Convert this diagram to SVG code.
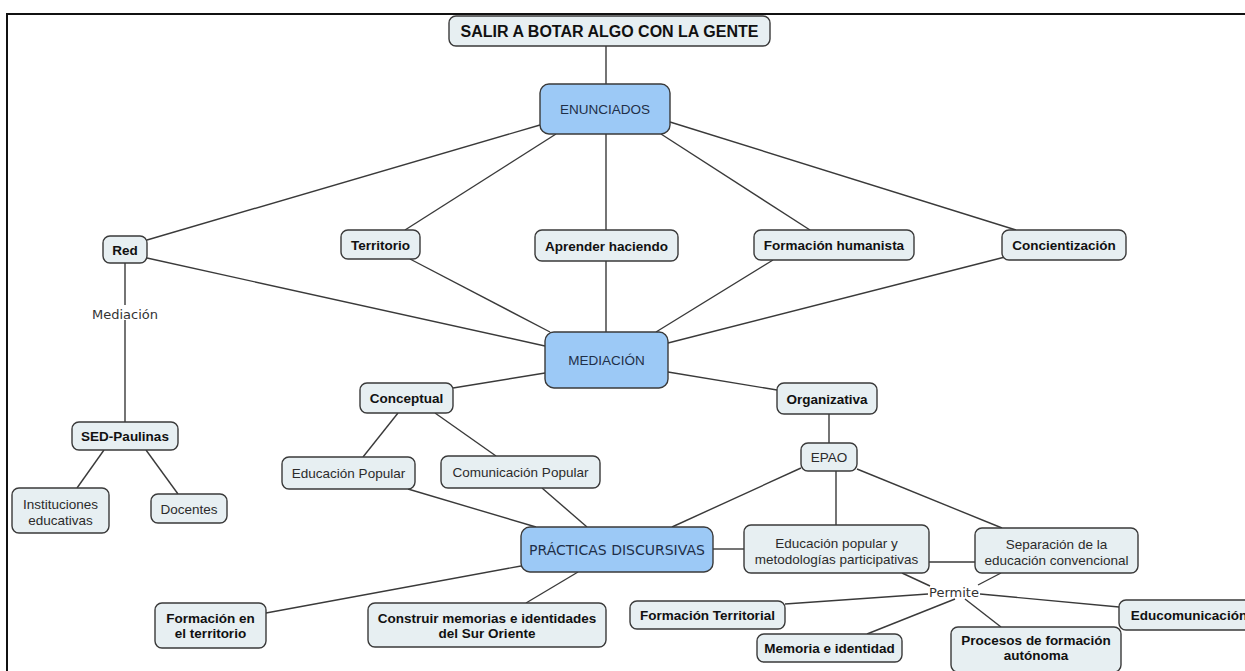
<svg xmlns="http://www.w3.org/2000/svg" width="1245" height="671" viewBox="0 0 1245 671">
<style>
.n rect{fill:#e7eff2;stroke:#3a3a3a;stroke-width:1.4}
.b rect{fill:#9cc9f6;stroke:#3a3a3a;stroke-width:1.4}
text{font-family:"Liberation Sans",Arial,sans-serif;font-size:13.5px;text-anchor:middle;fill:#2b2b2b}
.b text{fill:#1f2f48}
.bd text{font-weight:bold;fill:#111}
.lbl{font-family:"DejaVu Sans",Verdana,sans-serif;font-size:13px;fill:#333}
#links line{stroke:#3a3a3a;stroke-width:1.4}
</style>
<rect x="0" y="0" width="1245" height="671" fill="#ffffff"/>
<path d="M7,671 V14 H1245" fill="none" stroke="#111" stroke-width="2"/>
<g id="links">
<line x1="606" y1="46" x2="606" y2="84"/>
<line x1="540" y1="125" x2="147" y2="240"/>
<line x1="556" y1="134" x2="405" y2="230"/>
<line x1="606" y1="134" x2="606" y2="230"/>
<line x1="661" y1="134" x2="810" y2="230"/>
<line x1="670" y1="122" x2="1016" y2="230"/>
<line x1="147" y1="258" x2="545" y2="346"/>
<line x1="410" y1="259" x2="550" y2="332"/>
<line x1="606" y1="261" x2="606" y2="332"/>
<line x1="773" y1="260" x2="656" y2="332"/>
<line x1="1005" y1="257" x2="668" y2="343"/>
<line x1="668" y1="372" x2="777" y2="390"/>
<line x1="545" y1="373" x2="453" y2="388"/>
<line x1="398" y1="413" x2="363" y2="457"/>
<line x1="435" y1="413" x2="496" y2="456"/>
<line x1="408" y1="489" x2="536" y2="527"/>
<line x1="542" y1="488" x2="587" y2="527"/>
<line x1="801" y1="468" x2="672" y2="527"/>
<line x1="836" y1="471" x2="836" y2="525"/>
<line x1="857" y1="469" x2="1002" y2="528"/>
<line x1="829" y1="414" x2="829" y2="443"/>
<line x1="713" y1="549" x2="744" y2="549"/>
<line x1="929" y1="562" x2="975" y2="562"/>
<line x1="521" y1="566" x2="266" y2="613"/>
<line x1="578" y1="572" x2="526" y2="603"/>
<line x1="125" y1="263" x2="125" y2="305"/>
<line x1="125" y1="320" x2="125" y2="422"/>
<line x1="104" y1="450" x2="77" y2="488"/>
<line x1="146" y1="450" x2="178" y2="494"/>
<line x1="902" y1="573" x2="930" y2="586"/>
<line x1="1001" y1="573" x2="978" y2="585"/>
<line x1="928" y1="594" x2="785" y2="604"/>
<line x1="955" y1="599" x2="867" y2="634"/>
<line x1="965" y1="599" x2="1001" y2="627"/>
<line x1="980" y1="594" x2="1119" y2="607"/>
<text class="lbl" x="125" y="319">Mediación</text>
<text class="lbl" x="954" y="597">Permite</text>
</g>
<g id="n-salir" class="n bd"><rect x="449" y="16" width="321" height="30" rx="7"/><text x="609.5" y="37" style="font-size:16px">SALIR A BOTAR ALGO CON LA GENTE</text></g>
<g id="n-enunciados" class="b"><rect x="540" y="84" width="130" height="50" rx="9"/><text x="605" y="114">ENUNCIADOS</text></g>
<g id="n-red" class="n bd"><rect x="103" y="236" width="44" height="27" rx="7"/><text x="125" y="254.5">Red</text></g>
<g id="n-territorio" class="n bd"><rect x="341" y="230" width="79" height="29" rx="7"/><text x="380.5" y="249.5">Territorio</text></g>
<g id="n-aprender" class="n bd"><rect x="535" y="230" width="143" height="31" rx="7"/><text x="606.5" y="250.5">Aprender haciendo</text></g>
<g id="n-formhum" class="n bd"><rect x="754" y="230" width="160" height="30" rx="7"/><text x="834" y="250">Formación humanista</text></g>
<g id="n-concient" class="n bd"><rect x="1002" y="230" width="124" height="30" rx="7"/><text x="1064" y="250">Concientización</text></g>
<g id="n-mediacion" class="b"><rect x="545" y="332" width="123" height="56" rx="9"/><text x="606.5" y="365">MEDIACIÓN</text></g>
<g id="n-sed" class="n bd"><rect x="72" y="422" width="106" height="28" rx="7"/><text x="125" y="441">SED-Paulinas</text></g>
<g id="n-instituciones" class="n"><rect x="12" y="488" width="97" height="45" rx="7"/><text x="60.5" y="509">Instituciones</text><text x="60.5" y="524.5">educativas</text></g>
<g id="n-docentes" class="n"><rect x="151" y="494" width="76" height="29" rx="7"/><text x="189" y="513.5">Docentes</text></g>
<g id="n-conceptual" class="n bd"><rect x="360" y="383" width="93" height="30" rx="7"/><text x="406.5" y="403">Conceptual</text></g>
<g id="n-organizativa" class="n bd"><rect x="777" y="383" width="100" height="31" rx="7"/><text x="827" y="403.5">Organizativa</text></g>
<g id="n-epao" class="n"><rect x="801" y="443" width="56" height="28" rx="7"/><text x="829" y="462">EPAO</text></g>
<g id="n-edupop" class="n"><rect x="282" y="457" width="133" height="32" rx="7"/><text x="348.5" y="478">Educación Popular</text></g>
<g id="n-compop" class="n"><rect x="441" y="456" width="159" height="32" rx="7"/><text x="520.5" y="477">Comunicación Popular</text></g>
<g id="n-practicas" class="b"><rect x="521" y="527" width="192" height="45" rx="9"/><text x="617" y="555" style="font-family:'DejaVu Sans',Verdana,sans-serif;font-size:14px">PRÁCTICAS DISCURSIVAS</text></g>
<g id="n-edupopmet" class="n"><rect x="744" y="525" width="185" height="48" rx="7"/><text x="836.5" y="548">Educación popular y</text><text x="836.5" y="563.5">metodologías participativas</text></g>
<g id="n-separacion" class="n"><rect x="975" y="528" width="163" height="45" rx="7"/><text x="1056.5" y="548.5">Separación de la</text><text x="1056.5" y="564.5">educación convencional</text></g>
<g id="n-formterr" class="n bd"><rect x="630" y="601" width="155" height="28" rx="7"/><text x="707.5" y="620">Formación Territorial</text></g>
<g id="n-memoria" class="n bd"><rect x="757" y="634" width="145" height="28" rx="7"/><text x="829.5" y="653">Memoria e identidad</text></g>
<g id="n-procesos" class="n bd"><rect x="951" y="627" width="170" height="45" rx="7"/><text x="1036" y="644.5">Procesos de formación</text><text x="1036" y="660">autónoma</text></g>
<g id="n-educom" class="n bd"><rect x="1119" y="600" width="140" height="30" rx="7"/><text x="1189" y="620">Educomunicación</text></g>
<g id="n-formenterr" class="n bd"><rect x="155" y="603" width="111" height="45" rx="7"/><text x="210.5" y="622.5">Formación en</text><text x="210.5" y="638">el territorio</text></g>
<g id="n-construir" class="n bd"><rect x="368" y="603" width="238" height="44" rx="7"/><text x="487" y="622.5">Construir memorias e identidades</text><text x="487" y="638">del Sur Oriente</text></g>
</svg>
